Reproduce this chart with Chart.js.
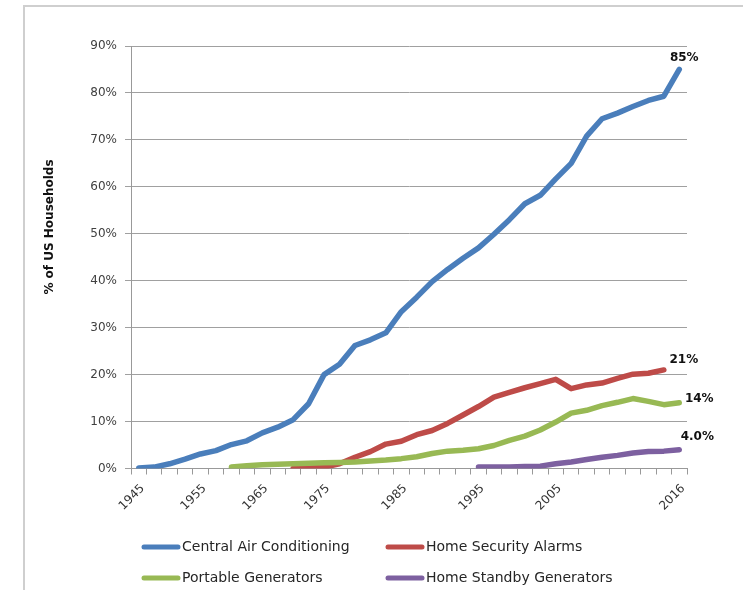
<!DOCTYPE html>
<html>
<head>
<meta charset="utf-8">
<title>Household adoption</title>
<script src="https://cdn.jsdelivr.net/npm/chart.js@4.4.1/dist/chart.umd.min.js"></script>
<style>
  html, body { margin: 0; padding: 0; background: #fff; }
  #wrap { position: relative; width: 743px; height: 590px; }
</style>
</head>
<body>
<div id="wrap"><canvas id="adoptionChart"></canvas></div>
<script>
// category labels (only some years are printed on the axis)
const yearLabels = ['1945', '', '', '', '1955', '', '', '', '1965', '', '', '', '1975', '', '', '', '',
    '1985', '', '', '', '', '1995', '', '', '', '', '2005', '', '', '', '', '', '', '', '2016'];

// % of US households
const centralAir = [0.1, 0.3, 1.0, 2.0, 3.1, 3.8, 5.1, 5.9, 7.6, 8.8, 10.4, 13.8, 20.0, 22.2, 26.2, 27.4,
    28.9, 33.4, 36.5, 39.8, 42.4, 44.8, 47.0, 49.9, 53.0, 56.4, 58.2, 61.7, 65.0, 70.8, 74.5, 75.7,
    77.1, 78.4, 79.3, 85];
const securityAlarms = [null, null, null, null, null, null, null, null, null, null,
    0, 0.1, 0.3, 1.0, 2.4, 3.6, 5.2, 5.8, 7.2, 8.1, 9.6, 11.4, 13.2, 15.2, 16.2, 17.2, 18.1, 19.0,
    17.0, 17.8, 18.2, 19.2, 20.1, 20.3, 21, null];
const portableGen = [null, null, null, null, null, null,
    0.3, 0.6, 0.8, 0.9, 1.0, 1.1, 1.2, 1.3, 1.4, 1.6, 1.8, 2.1, 2.5, 3.2, 3.7, 3.9, 4.2, 4.9, 6.0,
    6.9, 8.2, 9.9, 11.8, 12.4, 13.4, 14.1, 14.9, 14.3, 13.6, 14];
const standbyGen = [null, null, null, null, null, null, null, null, null, null, null,
    null, null, null, null, null, null, null, null, null, null, null,
    0.3, 0.3, 0.3, 0.4, 0.5, 1.0, 1.4, 1.9, 2.4, 2.8, 3.3, 3.6, 3.7, 4.0];

const seriesNames = ['Central Air Conditioning', 'Home Security Alarms', 'Portable Generators', 'Home Standby Generators'];
const seriesColors = ['#4a7ebb', '#be4b48', '#98b954', '#7d60a0'];
const endDecimals = [0, 0, 0, 1];

// where the end-value label sits relative to the last point
const endLabelOffset = [[5, -12], [20, -10], [20, -4], [18, -13]];
// custom legend grid: [x of line sample, y of row]
const legendSpots = [[142, 547], [386, 547], [142, 578], [386, 578]];

const FONT = '"DejaVu Sans", Verdana, sans-serif';

const decorations = {
    id: 'decorations',
    beforeDraw(chart) {
        const c = chart.ctx;
        c.save();
        c.fillStyle = '#fff';
        c.fillRect(0, 0, chart.width, chart.height);
        // outer frame
        c.strokeStyle = '#cfcfcf';
        c.lineWidth = 2;
        c.beginPath();
        c.moveTo(24, chart.height);
        c.lineTo(24, 6);
        c.lineTo(chart.width, 6);
        c.stroke();
        c.restore();
    },
    afterDraw(chart) {
        const c = chart.ctx;
        c.save();

        // y axis title
        c.translate(50, 227);
        c.rotate(-Math.PI / 2);
        c.font = 'bold 12px ' + FONT;
        c.fillStyle = '#111';
        c.textAlign = 'center';
        c.textBaseline = 'middle';
        c.fillText('% of US Households', 0, 0);
        c.setTransform(1, 0, 0, 1, 0, 0);

        // value at the end of each line
        c.font = 'bold 12px ' + FONT;
        chart.data.datasets.forEach((ds, i) => {
            let last = ds.data.length - 1;
            while (last >= 0 && ds.data[last] == null) last--;
            const pt = chart.getDatasetMeta(i).data[last];
            const txt = ds.data[last].toFixed(endDecimals[i]) + '%';
            c.fillText(txt, pt.x + endLabelOffset[i][0], pt.y + endLabelOffset[i][1]);
        });

        // legend, two columns
        chart.data.datasets.forEach((ds, i) => {
            const [lx, ly] = legendSpots[i];
            c.strokeStyle = ds.borderColor;
            c.lineWidth = 5;
            c.lineCap = 'round';
            c.beginPath();
            c.moveTo(lx + 2, ly);
            c.lineTo(lx + 36, ly);
            c.stroke();
            c.font = '14px ' + FONT;
            c.fillStyle = '#262626';
            c.textAlign = 'left';
            c.fillText(ds.label, lx + 40, ly);
        });
        c.restore();
    }
};

const seriesData = [centralAir, securityAlarms, portableGen, standbyGen];

const ctx = document.getElementById('adoptionChart').getContext('2d');
const chart = new Chart(ctx, {
    type: 'line',
    data: {
        labels: yearLabels,
        datasets: seriesData.map((vals, i) => ({
            label: seriesNames[i],
            data: vals,
            borderColor: seriesColors[i],
            backgroundColor: seriesColors[i],
            borderWidth: 5.5,
            borderCapStyle: 'round',
            borderJoinStyle: 'round',
            pointRadius: 0,
            tension: 0,
            order: 4 - i
        }))
    },
    options: {
        responsive: true,
        maintainAspectRatio: false,
        animation: false,
        layout: { padding: { top: 46, right: 56, left: 0, bottom: 0 } },
        plugins: {
            legend: { display: false },
            tooltip: { enabled: false }
        },
        scales: {
            x: {
                offset: true,
                grid: {
                    offset: true,
                    drawOnChartArea: false,
                    drawTicks: true,
                    tickLength: 6,
                    color: '#999'
                },
                border: { color: '#999', width: 1 },
                ticks: {
                    autoSkip: false,
                    minRotation: 45,
                    maxRotation: 45,
                    padding: 7,
                    labelOffset: 4,
                    color: '#333',
                    font: { family: FONT, size: 12 }
                },
                afterFit(scale) { scale.height = 121.5; }
            },
            y: {
                min: 0,
                max: 90,
                grid: {
                    color: '#a0a0a0',
                    tickLength: 6
                },
                border: { color: '#999', width: 1 },
                ticks: {
                    stepSize: 10,
                    padding: 8,
                    color: '#404040',
                    font: { family: FONT, size: 12 },
                    callback: v => v + '%'
                },
                afterFit(scale) { scale.width = 131; }
            }
        }
    },
    plugins: [decorations]
});
</script>
</body>
</html>
